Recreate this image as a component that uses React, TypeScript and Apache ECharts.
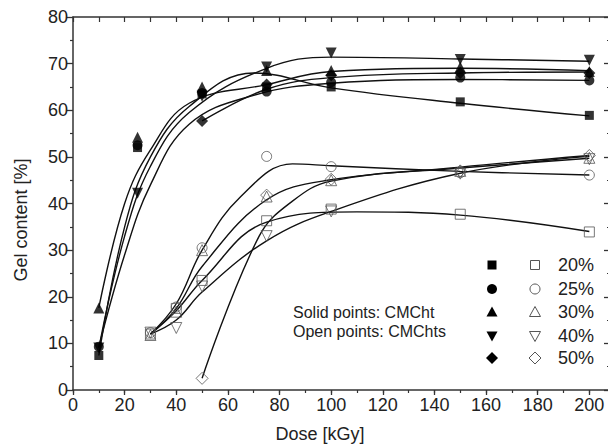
import React, { useEffect, useRef } from 'react';
import * as echarts from 'echarts';

// ---- measured data points (Dose [kGy] -> Gel content [%]) ----
const doseSolid = [10, 25, 50, 75, 100, 150, 200];
const doseSolid50 = [50, 75, 100, 150, 200];
const doseOpen = [30, 40, 50, 75, 100, 150, 200];
const doseOpen50 = [50, 75, 100, 150, 200];

const solid20 = [7.4, 52, 63.5, 65, 65, 61.8, 58.9];
const solid25 = [9.3, 52.5, 63.7, 64, 66, 67, 66.4];
const solid30 = [17.6, 54.2, 65, 68.5, 68.5, 69.3, 68.3];
const solid40 = [9, 42.2, 63, 69.3, 72.3, 70.9, 70.7];
const solid50 = [57.7, 65.5, 67.5, 68, 68];

const open20 = [12, 17.5, 23.5, 36.3, 38.8, 37.7, 33.9];
const open25 = [12.3, 17.8, 30.5, 50.1, 47.9, 46.6, 46.1];
const open30 = [11.8, 16.8, 30, 41.5, 45, 47, 49.8];
const open40 = [12.3, 13.3, 22.2, 33, 38.3, 46.4, 49.5];
const open50 = [2.5, 41.8, 45.2, 47, 50.3];

// ---- fitted curves ----
const fitDoseS20 = [10, 20, 30, 45, 70, 100, 150, 200];
const fitS20 = [7.4, 35, 50, 60.8, 68, 64.8, 61.5, 58.8];
const fitDoseS25 = [10, 20, 30, 45, 70, 100, 150, 200];
const fitS25 = [9.2, 29, 44, 57, 63.2, 65.8, 66.6, 66.4];
const fitDoseS30 = [10, 20, 30, 45, 75, 100, 150, 200];
const fitS30 = [17.6, 40, 51.5, 61.5, 65.5, 68.3, 69, 68.5];
const fitDoseS40 = [10, 20, 30, 45, 75, 100, 150, 200];
const fitS40 = [9, 33, 48, 59.5, 69, 71.4, 71, 70.5];
const fitDoseS50 = [50, 75, 100, 150, 200];
const fitS50 = [57.7, 64.5, 67, 68, 68.2];

const fitDoseO20 = [30, 40, 50, 75, 110, 150, 200];
const fitO20 = [12, 17, 23.5, 36, 38.2, 37.5, 34];
const fitDoseO25 = [30, 40, 50, 65, 85, 100, 150, 200];
const fitO25 = [12, 18.5, 30, 41.5, 48.5, 48.1, 46.9, 46.1];
const fitDoseO30 = [30, 40, 50, 75, 100, 150, 200];
const fitO30 = [12, 17.5, 26.5, 40.8, 45.1, 47.6, 49.7];
const fitDoseO40 = [30, 40, 50, 75, 100, 150, 200];
const fitO40 = [12, 15, 21, 32, 38.3, 46.5, 50.1];
const fitDoseO50 = [50, 72, 85, 100, 150, 200];
const fitO50 = [2.5, 32.9, 40.5, 44.8, 47.8, 50.3];

const xTicks = [0, 20, 40, 60, 80, 100, 120, 140, 160, 180, 200];
const legendLabels = ['20%', '25%', '30%', '40%', '50%'];

const FONT = '"Liberation Sans", Arial, Helvetica, sans-serif';
const AX = '#333';
const OPEN = '#555';

const zip = (xs: number[], ys: number[]) => xs.map((x, i) => [x, ys[i]]);

export default function App() {
  const ref = useRef<HTMLDivElement>(null);

  useEffect(() => {
    if (!ref.current) return;
    const chart = echarts.init(ref.current, null, { renderer: 'svg' });

    const fit = (xs: number[], ys: number[]) => ({
      type: 'line',
      data: zip(xs, ys),
      showSymbol: false,
      symbol: 'none',
      smooth: 0.4,
      lineStyle: { color: '#111', width: 1.4 },
      silent: true,
      z: 2,
    });

    const solid = (xs: number[], ys: number[], symbol: string, size: number, rot = 0) => ({
      type: 'scatter',
      data: zip(xs, ys),
      symbol,
      symbolSize: size,
      symbolRotate: rot,
      itemStyle: { color: '#000' },
      z: 4,
    });

    const open = (xs: number[], ys: number[], symbol: string, size: number, rot = 0) => ({
      type: 'scatter',
      data: zip(xs, ys),
      symbol,
      symbolSize: size,
      symbolRotate: rot,
      itemStyle: { color: 'rgba(255,255,255,0)', borderColor: OPEN, borderWidth: 1 },
      z: 3,
    });

    const rowY = [265, 289, 312, 336, 358];
    const sx = 492;
    const ox = 535;
    const legendG: any[] = [];
    const solidStyle = { fill: '#000' };
    const openStyle = { fill: 'none', stroke: OPEN, lineWidth: 1 };
    const shapeAt = (kind: number, x: number, y: number, style: any) => {
      if (kind === 0) return { type: 'rect', shape: { x: x - 4.5, y: y - 4.5, width: 9, height: 9 }, style };
      if (kind === 1) return { type: 'circle', shape: { cx: x, cy: y, r: 5 }, style };
      if (kind === 2) return { type: 'polygon', shape: { points: [[x, y - 5.5], [x + 5.5, y + 4.5], [x - 5.5, y + 4.5]] }, style };
      if (kind === 3) return { type: 'polygon', shape: { points: [[x, y + 5.5], [x + 5.5, y - 4.5], [x - 5.5, y - 4.5]] }, style };
      return { type: 'polygon', shape: { points: [[x, y - 6], [x + 6, y], [x, y + 6], [x - 6, y]] }, style };
    };
    legendLabels.forEach((lab, i) => {
      legendG.push(shapeAt(i, sx, rowY[i], solidStyle));
      legendG.push(shapeAt(i, ox, rowY[i], openStyle));
      legendG.push({
        type: 'text',
        x: 558,
        y: rowY[i],
        style: { text: lab, font: `18px ${FONT}`, fill: '#222', verticalAlign: 'middle' },
      });
    });

    const option: any = {
      animation: false,
      backgroundColor: '#fff',
      grid: { left: 73, top: 17, width: 537, height: 373, containLabel: false },
      xAxis: [
        {
          type: 'value', min: 0, max: 208, interval: 20, position: 'bottom',
          axisLine: { show: true, onZero: false, lineStyle: { color: AX, width: 1.5 } },
          axisTick: { show: true, inside: false, length: 5, lineStyle: { color: AX, width: 1.3 } },
          axisLabel: {
            show: true, fontSize: 18, color: '#222', fontFamily: FONT, margin: 6,
            formatter: (v: number) => (xTicks.indexOf(v) >= 0 ? String(v) : ''),
          },
          splitLine: { show: false },
        },
        {
          type: 'value', min: 0, max: 208, interval: 10, position: 'bottom',
          axisLine: { show: false, onZero: false },
          axisTick: { show: true, inside: false, length: 3, lineStyle: { color: AX, width: 1.2 } },
          axisLabel: { show: false },
          splitLine: { show: false },
        },
        {
          type: 'value', min: 0, max: 208, interval: 10, position: 'top',
          axisLine: { show: true, onZero: false, lineStyle: { color: AX, width: 1.5 } },
          axisTick: { show: true, inside: true, length: 5, lineStyle: { color: AX, width: 1.2 } },
          axisLabel: { show: false },
          splitLine: { show: false },
        },
      ],
      yAxis: [
        {
          type: 'value', min: 0, max: 80, interval: 10, position: 'left',
          axisLine: { show: true, onZero: false, lineStyle: { color: AX, width: 1.5 } },
          axisTick: { show: true, inside: false, length: 6, lineStyle: { color: AX, width: 1.3 } },
          minorTick: { show: true, splitNumber: 2, length: 3, lineStyle: { color: AX, width: 1.2 } },
          axisLabel: { show: true, fontSize: 18, color: '#222', fontFamily: FONT, margin: 5 },
          splitLine: { show: false },
          minorSplitLine: { show: false },
        },
        {
          type: 'value', min: 0, max: 80, interval: 10, position: 'right',
          axisLine: { show: true, onZero: false, lineStyle: { color: AX, width: 1.5 } },
          axisTick: { show: true, inside: true, length: 6, lineStyle: { color: AX, width: 1.3 } },
          minorTick: { show: true, splitNumber: 2, length: 3, lineStyle: { color: AX, width: 1.2 } },
          axisLabel: { show: false },
          splitLine: { show: false },
        },
      ],
      graphic: [
        {
          type: 'text', x: 320, y: 434,
          style: { text: 'Dose [kGy]', font: `18px ${FONT}`, fill: '#222', align: 'center', verticalAlign: 'middle' },
        },
        {
          type: 'text', x: 21, y: 220, rotation: Math.PI / 2,
          style: { text: 'Gel content [%]', font: `18px ${FONT}`, fill: '#222', align: 'center', verticalAlign: 'middle' },
        },
        {
          type: 'text', x: 293, y: 312,
          style: { text: 'Solid points: CMCht', font: `16px ${FONT}`, fill: '#222', align: 'left', verticalAlign: 'middle' },
        },
        {
          type: 'text', x: 293, y: 331,
          style: { text: 'Open points: CMChts', font: `16px ${FONT}`, fill: '#222', align: 'left', verticalAlign: 'middle' },
        },
        ...legendG,
      ],
      series: [
        fit(fitDoseS20, fitS20),
        fit(fitDoseS25, fitS25),
        fit(fitDoseS30, fitS30),
        fit(fitDoseS40, fitS40),
        fit(fitDoseS50, fitS50),
        fit(fitDoseO20, fitO20),
        fit(fitDoseO25, fitO25),
        fit(fitDoseO30, fitO30),
        fit(fitDoseO40, fitO40),
        fit(fitDoseO50, fitO50),
        solid(doseSolid, solid20, 'rect', 9),
        solid(doseSolid, solid25, 'circle', 10),
        solid(doseSolid, solid30, 'triangle', 11),
        solid(doseSolid, solid40, 'triangle', 11, 180),
        solid(doseSolid50, solid50, 'diamond', 12),
        open(doseOpen, open20, 'rect', 10),
        open(doseOpen, open25, 'circle', 10),
        open(doseOpen, open30, 'triangle', 11),
        open(doseOpen, open40, 'triangle', 11, 180),
        open(doseOpen50, open50, 'diamond', 12),
      ],
    };

    chart.setOption(option);
    return () => chart.dispose();
  }, []);

  return (
    <div style={{ position: 'absolute', left: 0, top: 0, width: 608, height: 444, overflow: 'hidden', background: '#fff' }}>
      <div ref={ref} style={{ width: 620, height: 444 }} />
    </div>
  );
}
